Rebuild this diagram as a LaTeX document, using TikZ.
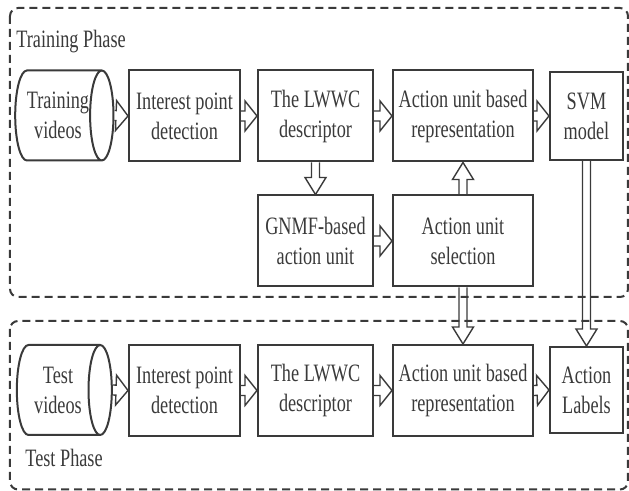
\documentclass[tikz,border=0pt]{standalone}
\usepackage{fontspec}
\newfontfamily\tnr[FakeStretch=0.73]{Liberation Serif}
\usetikzlibrary{calc,shapes.geometric}
\definecolor{ink}{HTML}{3A3A3A}

% hollow block arrow: start, end, half shaft, half head, head length
\newcommand{\blockarrow}[5]{%
  \draw[flowline] ($(#1)!#3!90:(#2)$) -- ($(#2)!#5!(#1)!#3!-90:(#1)$)
    -- ($(#2)!#5!(#1)!#4!-90:(#1)$) -- (#2)
    -- ($(#2)!#5!(#1)!#4!90:(#1)$) -- ($(#2)!#5!(#1)!#3!90:(#1)$)
    -- ($(#1)!#3!-90:(#2)$);
}
\newcommand{\hflow}[2]{\blockarrow{#1}{#2}{2.5pt}{7.5pt}{6pt}}
\newcommand{\vflow}[2]{\blockarrow{#1}{#2}{2pt}{5.25pt}{8.5pt}}

\tikzset{
  box/.style={draw=ink, line width=1pt, inner sep=0pt, align=center,
    minimum height=45.5pt},
  videos/.style={cylinder, draw=ink, line width=1pt, inner sep=0pt,
    align=center, aspect=0.5, minimum width=45pt, minimum height=47.5pt},
  phase/.style={draw=ink, line width=1pt, dash pattern=on 4pt off 2.5pt,
    rounded corners=4pt},
  flowline/.style={draw=ink, line width=0.7pt, line join=miter},
}

\begin{document}
\begin{tikzpicture}[x=5pt, y=-5pt, text=ink,
  font=\tnr\fontsize{12.5pt}{15pt}\selectfont]

\useasboundingbox (0,0) rectangle (62.9,49.1);

% phases
\draw[phase] (1.0,0.8) rectangle (62.8,29.7);
\draw[phase] (1.0,32.1) rectangle (62.8,48.95);
\node[inner sep=0pt, anchor=base west] (trainlbl) at (1.6,4.8) {Training Phase};
\node[inner sep=0pt, anchor=base west] (testlbl) at (2.5,46.7) {Test Phase};

% training
\node[videos] (trvid) at (5.8,11.55) {Training\\videos};
\node[box, minimum width=55.5pt] (trip) at (18.45,11.6) {Interest point\\detection};
\node[box, minimum width=57.5pt] (trlw) at (31.55,11.6) {The LWWC\\descriptor};
\node[box, minimum width=70pt] (trau) at (46.3,11.6) {Action unit based\\representation};
\node[box, minimum width=36.5pt, minimum height=44pt] (svm) at (58.65,11.6) {SVM\\model};
\node[box, minimum width=57.5pt] (gnmf) at (31.55,24.1) {GNMF-based\\action unit};
\node[box, minimum width=70pt] (ausel) at (46.3,24.1) {Action unit\\selection};

% test
\node[videos] (tevid) at (5.8,39.0) {Test\\videos};
\node[box, minimum width=55.5pt] (teip) at (18.45,39.05) {Interest point\\detection};
\node[box, minimum width=57.5pt] (telw) at (31.55,39.05) {The LWWC\\descriptor};
\node[box, minimum width=70pt] (teau) at (46.3,39.05) {Action unit based\\representation};
\node[box, minimum width=36.5pt, minimum height=43pt] (lab) at (58.65,39.0) {Action\\Labels};

% arrows
\hflow{trvid.east}{trip.west}
\hflow{trip.east}{trlw.west}
\hflow{trlw.east}{trau.west}
\hflow{trau.east}{svm.west}
\hflow{gnmf.east}{ausel.west}
\hflow{tevid.east}{teip.west}
\hflow{teip.east}{telw.west}
\hflow{telw.east}{teau.west}
\hflow{teau.east}{lab.west}
\vflow{trlw.south}{gnmf.north}
\vflow{ausel.north}{trau.south}
\vflow{ausel.south}{teau.north}
\vflow{svm.south}{lab.north}

\end{tikzpicture}
\end{document}
